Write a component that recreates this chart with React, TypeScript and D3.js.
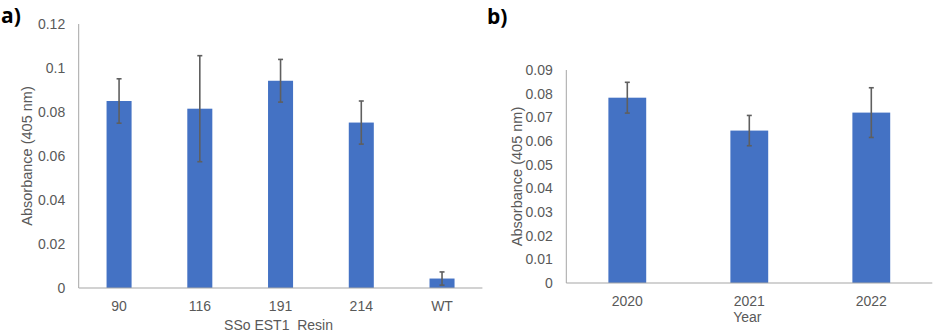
import { useEffect, useRef } from 'react';
import * as d3 from 'd3';

// panel a
const resinLabels = ['90', '116', '191', '214', 'WT'];
const resinMeans = [0.085, 0.0815, 0.0942, 0.0752, 0.0043];
const resinErrors = [0.0101, 0.0241, 0.0097, 0.0098, 0.003];
const resinTicks = [0, 0.02, 0.04, 0.06, 0.08, 0.1, 0.12];

// panel b
const yearLabels = ['2020', '2021', '2022'];
const yearMeans = [0.0783, 0.0644, 0.072];
const yearErrors = [0.0065, 0.0064, 0.0105];
const yearTicks = [0, 0.01, 0.02, 0.03, 0.04, 0.05, 0.06, 0.07, 0.08, 0.09];

const BAR = '#4472C4';
const ERR = '#5f5f5f';
const AXIS = '#A6A6A6';
const TEXT = '#595959';
const FONT = '"Liberation Sans", Arial, sans-serif';

const drawPanel = (svg, opts) => {
  const { labels, means, errors, ticks, left, right, top, bottom, yMax, tag, tagX, tagY,
    xTitle, xTitleY, tickY, yTitleX, tickFmt } = opts;

  const g = svg.append('g');

  const x = d3.scaleBand().domain(labels).range([left, right]).paddingInner(0.69).paddingOuter(0.345);
  const y = d3.scaleLinear().domain([0, yMax]).range([bottom, top]);

  // bars
  g.selectAll('rect.bar')
    .data(labels)
    .enter()
    .append('rect')
    .attr('class', 'bar')
    .attr('x', d => x(d))
    .attr('y', (d, i) => y(means[i]))
    .attr('width', x.bandwidth())
    .attr('height', (d, i) => y(0) - y(means[i]))
    .attr('fill', BAR);

  // error bars
  labels.forEach((d, i) => {
    const cx = x(d) + x.bandwidth() / 2;
    const hi = y(means[i] + errors[i]);
    const lo = y(means[i] - errors[i]);
    g.append('line').attr('x1', cx).attr('x2', cx).attr('y1', hi).attr('y2', lo)
      .attr('stroke', ERR).attr('stroke-width', 1.6);
    [hi, lo].forEach(v => {
      g.append('line').attr('x1', cx - 2.5).attr('x2', cx + 2.5).attr('y1', v).attr('y2', v)
        .attr('stroke', ERR).attr('stroke-width', 1.6);
    });
  });

  // axes lines
  g.append('line').attr('x1', left).attr('x2', left).attr('y1', top).attr('y2', bottom)
    .attr('stroke', AXIS).attr('stroke-width', 1);
  g.append('line').attr('x1', left).attr('x2', right).attr('y1', bottom).attr('y2', bottom)
    .attr('stroke', AXIS).attr('stroke-width', 1.2);

  // y tick labels
  g.selectAll('text.ytick')
    .data(ticks)
    .enter()
    .append('text')
    .attr('x', left - 13.5)
    .attr('y', d => y(d))
    .attr('dy', '0.35em')
    .attr('text-anchor', 'end')
    .attr('font-family', FONT)
    .attr('font-size', 14)
    .attr('fill', TEXT)
    .text(tickFmt);

  // x tick labels
  g.selectAll('text.xtick')
    .data(labels)
    .enter()
    .append('text')
    .attr('x', d => x(d) + x.bandwidth() / 2)
    .attr('y', tickY)
    .attr('text-anchor', 'middle')
    .attr('font-family', FONT)
    .attr('font-size', 14)
    .attr('fill', TEXT)
    .text(d => d);

  g.append('text')
    .attr('x', (left + right) / 2 - 2)
    .attr('y', xTitleY)
    .attr('text-anchor', 'middle')
    .attr('font-family', FONT)
    .attr('font-size', 14)
    .attr('fill', TEXT)
    .style('white-space', 'pre')
    .text(xTitle);

  g.append('text')
    .attr('transform', `translate(${yTitleX}, ${(top + bottom) / 2}) rotate(-90)`)
    .attr('text-anchor', 'middle')
    .attr('font-family', FONT)
    .attr('font-size', 14.5)
    .attr('fill', TEXT)
    .text('Absorbance (405 nm)');

  g.append('text')
    .attr('x', tagX)
    .attr('y', tagY)
    .attr('font-family', '"Open Sans", "DejaVu Sans", sans-serif')
    .attr('font-weight', 'bold')
    .attr('font-size', 21)
    .attr('fill', '#000')
    .text(tag);
};

const App = () => {
  const svgRef = useRef();

  useEffect(() => {
    const svg = d3.select(svgRef.current);
    svg.selectAll('*').remove();

    drawPanel(svg, {
      labels: resinLabels, means: resinMeans, errors: resinErrors, ticks: resinTicks,
      left: 78.7, right: 482.4, top: 24, bottom: 288, yMax: 0.12,
      tag: 'a)', tagX: 1, tagY: 23,
      xTitle: 'SSo EST1  Resin', xTitleY: 330, tickY: 310.5, yTitleX: 32,
      tickFmt: d => (d === 0 ? '0' : d3.format('.2~f')(d)),
    });

    drawPanel(svg, {
      labels: yearLabels, means: yearMeans, errors: yearErrors, ticks: yearTicks,
      left: 566.3, right: 932.3, top: 70, bottom: 283, yMax: 0.09,
      tag: 'b)', tagX: 487, tagY: 24,
      xTitle: 'Year', xTitleY: 321.5, tickY: 305.5, yTitleX: 521.5,
      tickFmt: d => (d === 0 ? '0' : d3.format('.2f')(d)),
    });
  }, []);

  return (
    <svg ref={svgRef} width={936} height={334}
      style={{ position: 'absolute', left: 0, top: 0, background: '#fff' }} />
  );
};

export default App;
